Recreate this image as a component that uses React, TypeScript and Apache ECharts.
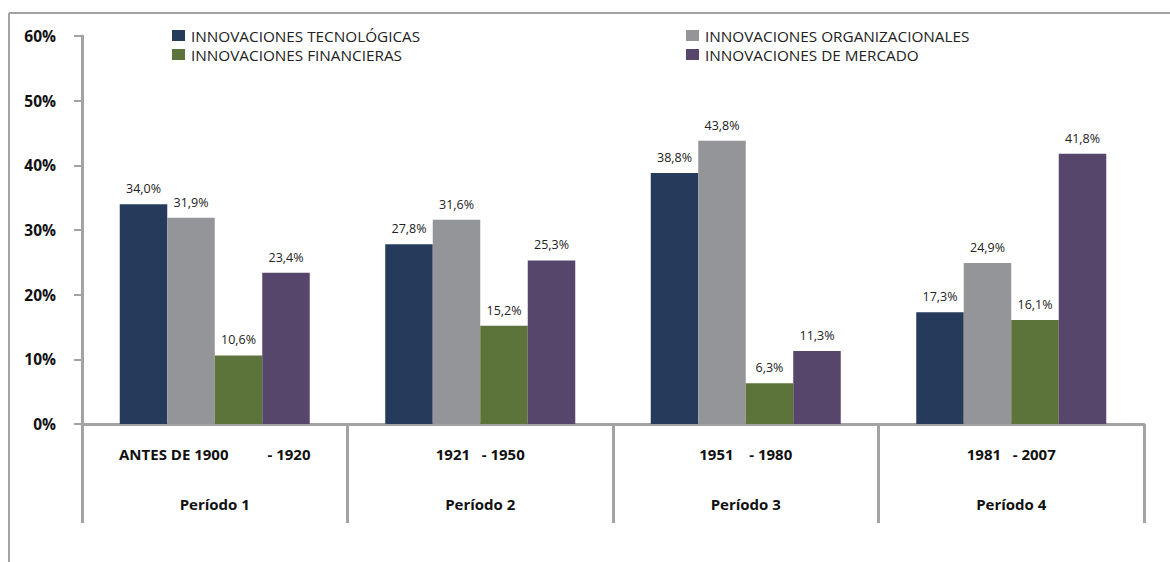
import React, { useEffect, useRef } from "react";
import * as echarts from "echarts";

const categories = ["ANTES DE 1900          - 1920", "1921   - 1950", "1951    - 1980", "1981   - 2007"];
const periods = ["Período 1", "Período 2", "Período 3", "Período 4"];
const seriesNames = [
  "INNOVACIONES TECNOLÓGICAS",
  "INNOVACIONES ORGANIZACIONALES",
  "INNOVACIONES FINANCIERAS",
  "INNOVACIONES DE MERCADO",
];
const tecnologicas = [34.0, 27.8, 38.8, 17.3];
const organizacionales = [31.9, 31.6, 43.8, 24.9];
const financieras = [10.6, 15.2, 6.3, 16.1];
const mercado = [23.4, 25.3, 11.3, 41.8];
const colors = ["#263A5C", "#939598", "#5C733A", "#56466C"];
const yTicks = [0, 10, 20, 30, 40, 50, 60];

const FONT = "'Open Sans', 'Noto Sans', sans-serif";
const GREY = "#a3a3a3";

export default function App() {
  const ref = useRef<HTMLDivElement>(null);
  useEffect(() => {
    if (!ref.current) return;
    const chart = echarts.init(ref.current, undefined, { renderer: "svg" });
    const data = [tecnologicas, organizacionales, financieras, mercado];
    const fmt = (v: number) => v.toFixed(1).replace(".", ",") + "%";
    const legendCommon = {
      orient: "vertical",
      top: 23,
      itemWidth: 13,
      itemHeight: 11,
      itemGap: 4,
      icon: "rect",
      textStyle: { fontFamily: FONT, fontSize: 15.3, color: "#222", padding: [0, 0, 0, 1] },
    };
    chart.setOption({
      animation: false,
      backgroundColor: "#ffffff",
      grid: { left: 82, right: 26, top: 36, bottom: 138, containLabel: false },
      legend: [
        { ...legendCommon, data: [seriesNames[0], seriesNames[2]], left: 167 },
        { ...legendCommon, data: [seriesNames[1], seriesNames[3]], left: 681 },
      ],
      xAxis: {
        type: "category",
        data: categories,
        boundaryGap: true,
        axisLine: { show: true, lineStyle: { color: GREY, width: 3 } },
        axisTick: {
          show: true,
          length: 99,
          inside: false,
          alignWithLabel: false,
          lineStyle: { color: GREY, width: 3 },
        },
        axisLabel: {
          interval: 0,
          margin: 20,
          formatter: (value: string, idx: number) => `{a|${value}}\n{b|${periods[idx]}}`,
          rich: {
            a: { fontFamily: FONT, fontSize: 15, fontWeight: "bold", color: "#111", lineHeight: 20 },
            b: { fontFamily: FONT, fontSize: 15, fontWeight: "bold", color: "#111", lineHeight: 80 },
          },
        },
      },
      yAxis: {
        type: "value",
        min: yTicks[0],
        max: yTicks[yTicks.length - 1],
        interval: 10,
        axisLine: { show: true, lineStyle: { color: GREY, width: 3 } },
        axisTick: { show: true, length: 8, lineStyle: { color: GREY, width: 2 } },
        splitLine: { show: false },
        axisLabel: {
          margin: 26,
          formatter: (v: number) => v + "%",
          fontFamily: FONT,
          fontSize: 15.5,
          fontWeight: "bold",
          color: "#111",
        },
      },
      series: seriesNames.map((name, i) => ({
        name,
        type: "bar",
        data: data[i],
        barWidth: 47.5,
        barGap: "0%",
        itemStyle: { color: colors[i] },
        label: {
          show: true,
          position: "top",
          distance: 9,
          formatter: (p: any) => fmt(p.value),
          fontFamily: FONT,
          fontSize: 12.5,
          color: "#222",
        },
      })),
      graphic: [
        {
          type: "line",
          shape: { x1: 9, y1: 13, x2: 1170, y2: 13 },
          style: { stroke: GREY, lineWidth: 2 },
        },
        {
          type: "line",
          shape: { x1: 9, y1: 13, x2: 9, y2: 562 },
          style: { stroke: GREY, lineWidth: 2 },
        },
      ],
    });
    return () => chart.dispose();
  }, []);
  return (
    <div
      ref={ref}
      style={{ position: "absolute", left: 0, top: 0, width: 1170, height: 562 }}
    />
  );
}
